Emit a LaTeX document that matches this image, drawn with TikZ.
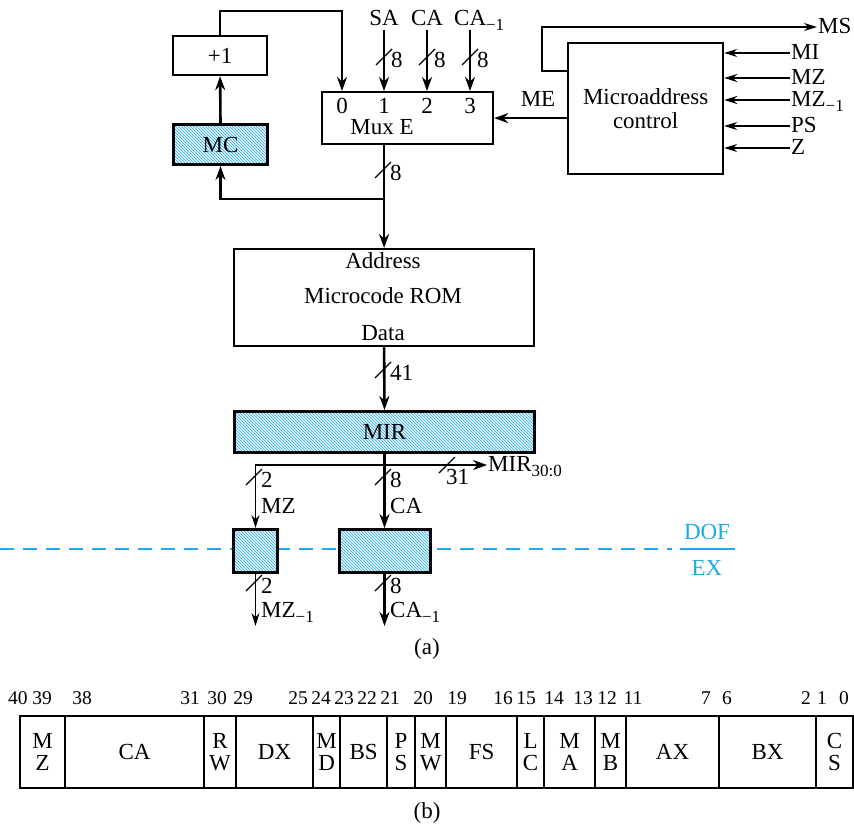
\documentclass[tikz,border=0pt]{standalone}
\usepackage{fontspec}
\setmainfont{Liberation Serif}
\usetikzlibrary{positioning, calc, arrows.meta, patterns}
\definecolor{hatchblue}{RGB}{41,168,226}
\definecolor{stageblue}{RGB}{30,170,230}
\newcommand{\lowidx}[1]{\raisebox{-0.45ex}{\fontsize{17}{17}\selectfont #1}}

\begin{document}
\begin{tikzpicture}[
  x=1pt, y=-1pt,
  font=\fontsize{23}{25}\selectfont,
  box/.style={draw, line width=2.2pt, inner sep=0pt, anchor=north west},
  reg/.style={box, line width=3pt,
    preaction={fill=hatchblue!12},
    preaction={pattern=north west lines, pattern color=hatchblue}},
  buswire/.style={line width=2.6pt},
  busline/.style={buswire, -{Stealth[length=14pt, width=10pt]}},
  ctlline/.style={line width=1.3pt, -{Stealth[length=13pt, width=8pt]}},
  lbl/.style={inner sep=1pt, text height=16pt, text depth=3pt},
  busmark/.pic={\draw[line width=1.2pt] (-8,8) -- (8,-8);
    \node[lbl, anchor=west] at (6,4) {\tikzpictext};},
  busmarkb/.pic={\draw[line width=1.2pt] (-8,8) -- (8,-8);
    \node[lbl, anchor=north west, inner sep=0pt] at (-1,3) {\tikzpictext};},
  stage/.style={line width=2.6pt, draw=stageblue, dash pattern=on 14pt off 9pt},
  stagelbl/.style={lbl, text=stageblue},
  bitno/.style={lbl, font=\fontsize{19.5}{20}\selectfont},
  field/.style={draw, line width=2.2pt, anchor=north west, minimum height=72,
    inner sep=0pt, align=center, font=\fontsize{23}{22}\selectfont},
]
  \useasboundingbox (0,0) rectangle (854,827);

  % --- DOF / EX stage boundary ---
  \draw[stage] (0,549) -- (672,549);
  \node[stagelbl] (dof) at (707,533) {DOF};
  \node[stagelbl] (ex) at (707,569) {EX};
  \draw[line width=2.2pt, stageblue] (680,549) -- (735,549);

  % --- Boxes ---
  \node[box, minimum width=94, minimum height=39] (inc) at (172,35) {+1};
  \node[reg, minimum width=94, minimum height=40] (mc) at (172,123) {MC};
  \node[box, minimum width=171, minimum height=52] (mux) at (321,91) {};
  \foreach \i/\xi in {0/342, 1/384, 2/427, 3/470}
    \node[lbl] (d\i) at (\xi,107) {\i};
  \node[lbl] (muxname) at (382,128) {Mux E};
  \node[box, minimum width=155, minimum height=131, align=center,
    font=\fontsize{23}{24}\selectfont] (mac) at (567,42) {Microaddress\\control};
  \node[box, minimum width=300, minimum height=97] (rom) at (233,248) {};
  \node[lbl] (romaddr) at (383,262) {Address};
  \node[lbl] (romname) at (383,297) {Microcode ROM};
  \node[lbl] (romdata) at (383,334) {Data};
  \node[reg, minimum width=300, minimum height=41] (mir) at (233,410) {MIR};
  \node[reg, minimum width=44, minimum height=43] (mzreg) at (232,528) {};
  \node[reg, minimum width=91, minimum height=43] (careg) at (338,528) {};

  % --- Mux E inputs ---
  \node[lbl] (sa) at (384,19) {SA};
  \node[lbl] (cain) at (427,19) {CA};
  \node[lbl, anchor=west] (caold) at (453,19) {CA\lowidx{−1}};
  \draw[busline] (sa.south -| d1) -- (d1 |- mux.north);
  \draw[busline] (cain.south -| d2) -- (d2 |- mux.north);
  \draw[busline] (caold.south -| d3) -- (d3 |- mux.north);
  \foreach \xi in {384, 427, 470}
    \pic[pic text=8] at (\xi,57) {busmark};

  % --- Address loop ---
  \draw[busline] (inc.north) -- ++(0,-24) -| (d0 |- mux.north);
  \draw[busline] (mc.north) -- (inc.south);
  \coordinate (fork) at (rom.north |- 0,199);
  \draw[buswire] (rom.north |- mux.south) -- (fork);
  \draw[busline] (fork) -- (rom.north);
  \draw[busline] (fork) -| (mc.south);
  \pic[pic text=8] at (383,170) {busmark};

  % --- Microaddress control ---
  \node[lbl, anchor=west] (ms) at (817,27) {MS};
  \draw[ctlline] ($(mac.north west)+(0,29)$) -- ++(-25,0) |- (ms.west);
  \draw[busline] (mac.west |- mux.east) -- (mux.east);
  \node[lbl] (me) at (538,100) {ME};
  \foreach \nm/\txt/\yy/\lw in {mi/MI/53/1.3pt, mz/MZ/78/2.4pt,
      mzold/MZ\lowidx{−1}/100/2.4pt, ps/PS/126/1.3pt, z/Z/148/1.3pt} {
    \node[lbl, anchor=west] (\nm) at (790,\yy) {\txt};
    \draw[ctlline, line width=\lw] (\nm.west) -- (\nm.west -| mac.east);
  }

  % --- ROM to MIR ---
  \draw[busline] (rom.south) -- (mir.north);
  \pic[pic text=41] at (383,370) {busmark};

  % --- MIR outputs ---
  \coordinate (mirfork) at (mir.south |- 0,465);
  \node[lbl, anchor=west] (mirout) at (487,465) {MIR\lowidx{30:0}};
  \draw[buswire] (mir.south) -- (mirfork);
  \draw[busline] (mirfork) -- (mirfork |- careg.north);
  \draw[busline] (mirfork) -- (mirout.west);
  \draw[ctlline] (mirfork) -| (mzreg.north);
  \pic[pic text=2] at (254,477) {busmark};
  \pic[pic text=8] at (383,477) {busmark};
  \pic[pic text=31] at (447,465) {busmarkb};
  \node[lbl, anchor=west] (mzlbl) at (260,507) {MZ};
  \node[lbl, anchor=west] (calbl) at (389,507) {CA};

  % --- Pipeline outputs ---
  \draw[ctlline] (mzreg.south) -- ++(0,52);
  \draw[busline] (careg.south -| mirfork) -- ++(0,52);
  \pic[pic text=2] at (254,583) {busmark};
  \pic[pic text=8] at (383,583) {busmark};
  \node[lbl, anchor=west] (mzout) at (260,611) {MZ\lowidx{−1}};
  \node[lbl, anchor=west] (caout) at (389,611) {CA\lowidx{−1}};
  \node[lbl] (capa) at (427,648) {(a)};

  % --- Microinstruction format ---
  \foreach \b/\xb in {40/18, 39/42, 38/82, 31/190, 30/217, 29/243, 25/298,
      24/321, 23/344, 22/367, 21/390, 20/423, 19/457, 16/503, 15/526,
      14/554, 13/583, 12/607, 11/633, 7/706, 6/727, 2/806, 1/822, 0/844}
    \node[bitno] (b\b) at (\xb,698) {\b};
  \foreach \xl/\xr/\txt [count=\k] in {19/64/{M\\Z}, 64/203/CA, 203/235/{R\\W},
      235/312/DX, 312/339/{M\\D}, 339/386/BS, 386/414/{P\\S}, 414/445/{M\\W},
      445/516/FS, 516/543/{L\\C}, 543/594/{M\\A}, 594/625/{M\\B},
      625/718/AX, 718/815/BX, 815/852/{C\\S}}
    \node[field, minimum width=\xr-\xl] (f\k) at (\xl,715) {\txt};
  \node[lbl] (capb) at (427,812) {(b)};

\end{tikzpicture}
\end{document}
